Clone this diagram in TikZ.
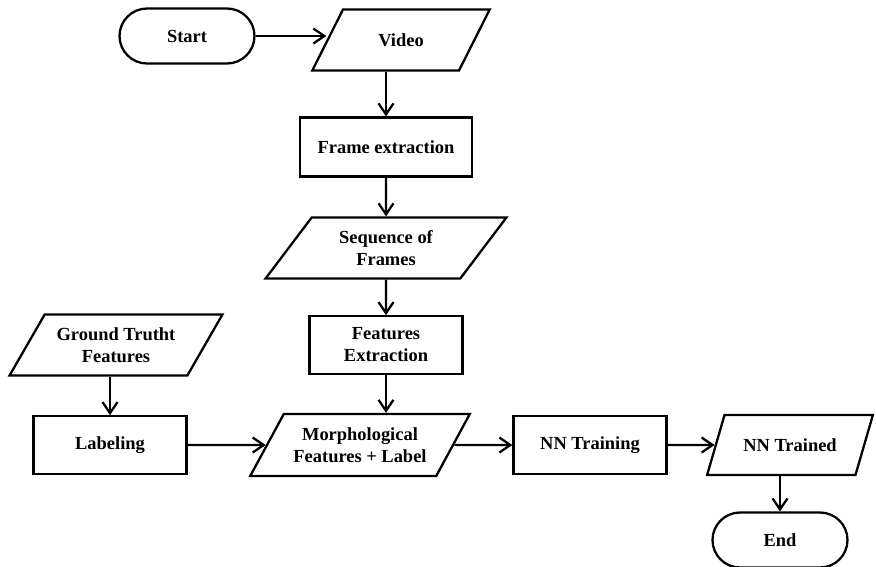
\documentclass[tikz,border=0pt]{standalone}
\usepackage{fontspec}
\setmainfont{Liberation Serif}
\usepackage{tikz}
\usetikzlibrary{arrows.meta,shapes.geometric,positioning}
\tikzset{
  fcterm/.style={rectangle, rounded corners=5.5mm, draw=black, line width=1.3pt,
                 minimum width=2.7cm, minimum height=1.1cm, inner sep=1pt,
                 font=\fontsize{10.5}{12.5}\selectfont\bfseries, align=center},
  fcproc/.style={rectangle, draw=black, line width=1.3pt,
                 minimum width=3.06cm, minimum height=1.15cm, inner sep=1pt,
                 font=\fontsize{10.5}{12.5}\selectfont\bfseries, align=center},
  fcdata/.style={trapezium, trapezium left angle=52, trapezium right angle=128,
                 trapezium stretches=true, draw=black, line width=1.3pt,
                 minimum height=1.22cm, inner sep=1pt,
                 font=\fontsize{10.5}{12.5}\selectfont\bfseries, align=center},
  fcflow/.style={-{Straight Barb[length=2.2mm,width=3mm]}, line width=1.3pt},
}
\begin{document}
\begin{tikzpicture}[x=0.02cm, y=-0.02cm]
  \useasboundingbox (0,0) rectangle (876,566);
  \node[fcterm]                                        (start)   at (187,36)  {Start};
  \node[fcdata, minimum width=3.56cm]                  (video)   at (401,40)  {Video};
  \node[fcproc, minimum width=3.44cm, minimum height=1.18cm] (frame) at (386,147) {Frame extraction};
  \node[fcdata, minimum width=4.84cm]                  (seq)     at (386,248) {Sequence of\\Frames};
  \node[fcproc]                                        (feat)    at (386,345) {Features\\Extraction};
  \node[fcdata, minimum width=4.26cm]                  (ground)  at (116,345) {Ground Trutht\\Features};
  \node[fcproc]                                        (label)   at (110,445) {Labeling};
  \node[fcdata, minimum width=4.4cm, minimum height=1.24cm] (morph) at (360,445) {Morphological\\Features + Label};
  \node[fcproc]                                        (train)   at (590,445) {NN Training};
  \node[fcdata, minimum width=3.32cm, minimum height=1.2cm] (trained) at (790,445) {NN Trained};
  \node[fcterm]                                        (end)     at (780,540) {End};
  \draw[fcflow] (start) -- (start -| video.west);
  \draw[fcflow] (video.south -| frame) -- (frame);
  \draw[fcflow] (frame) -- (seq);
  \draw[fcflow] (seq) -- (feat);
  \draw[fcflow] (feat) -- (feat |- morph.north);
  \draw[fcflow] (ground.south -| label) -- (label);
  \draw[fcflow] (label) -- (morph);
  \draw[fcflow] (morph) -- (train);
  \draw[fcflow] (train) -- (trained);
  \draw[fcflow] (trained.south -| end) -- (end);
\end{tikzpicture}
\end{document}
